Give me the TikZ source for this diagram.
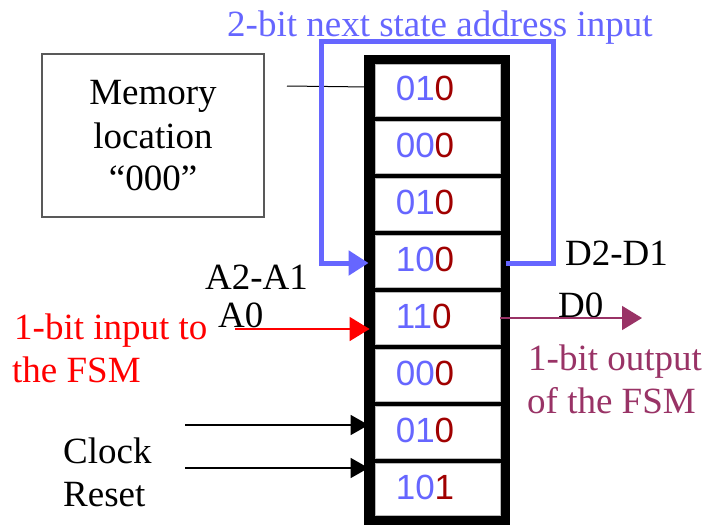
\documentclass[tikz,border=0pt]{standalone}
\usepackage{fontspec}
\setmainfont{Liberation Serif}
\newfontfamily\digitfont{Liberation Sans}
\usetikzlibrary{arrows.meta}

\definecolor{addrblue}{RGB}{102,102,255}
\definecolor{bitred}{RGB}{160,0,0}
\definecolor{outpurple}{RGB}{153,51,102}

\tikzset{
  lbl/.style={inner sep=0pt, anchor=base west, font=\fontsize{37}{42.5}\selectfont},
  cellbox/.style={draw=gray!55, line width=0.8pt, fill=white, minimum width=125pt,
                  minimum height=52pt, inner sep=0pt},
  bigtip/.style={-{Triangle[length=20pt,width=24pt]}},
  smalltip/.style={-{Triangle[length=18pt,width=20pt]}},
}

\newcommand{\word}[2]{{\digitfont\fontsize{35}{40}\selectfont\textcolor{addrblue}{#1}\textcolor{bitred}{#2}}}

\begin{document}
\begin{tikzpicture}[x=1pt,y=-1pt]
\useasboundingbox (0,0) rectangle (705,528);

% memory: thick black frame holding eight words
\node[fill=black, minimum width=146pt, minimum height=470pt, inner sep=0pt] (frame) at (437,290) {};
\foreach \i/\hi/\lo in {1/01/0,2/00/0,3/01/0,4/10/0,5/11/0,6/00/0,7/01/0,8/10/1}{
  \node[cellbox] (cell\i) at (437.5,{90+57*(\i-1)}) {};
  \node[anchor=west, inner sep=0pt] (w\i) at ([xshift=21pt,yshift=2pt]cell\i.west) {\word{\hi}{\lo}};
}

% callout box naming location 000
\node[draw=gray!70!black, line width=1.8pt, minimum width=222pt, minimum height=163pt, inner sep=0pt]
  (membox) at (153,135.5) {};
\node[anchor=base, inner sep=0pt, font=\fontsize{37}{42.5}\selectfont] (m1) at (153,104) {Memory};
\node[anchor=base, inner sep=0pt, font=\fontsize{37}{42.5}\selectfont] (m2) at (153,148) {location};
\node[anchor=base, inner sep=0pt, font=\fontsize{37}{42.5}\selectfont] (m3) at (153,190) {``000''};
\coordinate (memptr) at (287,86);
\draw[line width=1pt] (memptr) -- ([xshift=-6pt,yshift=3pt]cell1.west);

% next-state feedback loop
\node[lbl, text=addrblue] (title) at (227,36) {2-bit next state address input};
\coordinate (fbR) at (553.5,263);
\coordinate (fbRT) at (553.5,41.5);
\coordinate (fbLT) at (321.5,41.5);
\coordinate (fbL) at (321.5,263);
\draw[addrblue, line width=5pt, line join=miter] ([xshift=-4pt]frame.east |- fbR) -- (fbR) -- (fbRT) -- (fbLT) -- (fbL);
\draw[addrblue, line width=5pt, bigtip, shorten >=6pt] ([xshift=-2.5pt]fbL) -- (fbL -| cell4.west);

\node[lbl] (a21) at (205,289) {A2-A1};
\node[lbl] (a0) at (218,327) {A0};
\node[lbl] (d21) at (565,265) {D2-D1};
\node[lbl] (d0) at (558,317) {D0};

% FSM input bit
\coordinate (inbit) at (235,329);
\draw[red, line width=1.6pt, bigtip, shorten >=5pt] (inbit) -- (inbit -| cell5.west);
\node[lbl, text=red] (in1) at (14,339) {1-bit input to};
\node[lbl, text=red] (in2) at (12,382) {the FSM};

% FSM output bit
\coordinate (outbit) at (642,318);
\draw[outpurple, line width=1.6pt, bigtip] (cell5.east |- outbit) -- (outbit);
\node[lbl, text=outpurple] (out1) at (528,370) {1-bit output};
\node[lbl, text=outpurple] (out2) at (527,413) {of the FSM};

% clock and reset
\coordinate (clk) at (185,425);
\coordinate (rst) at (185,468);
\draw[line width=1.6pt, smalltip, shorten >=6pt] (clk) -- (clk -| cell7.west);
\draw[line width=1.6pt, smalltip, shorten >=6pt] (rst) -- (rst -| cell8.west);
\node[lbl] (clock) at (63,463) {Clock};
\node[lbl] (reset) at (63,506) {Reset};
\end{tikzpicture}
\end{document}
